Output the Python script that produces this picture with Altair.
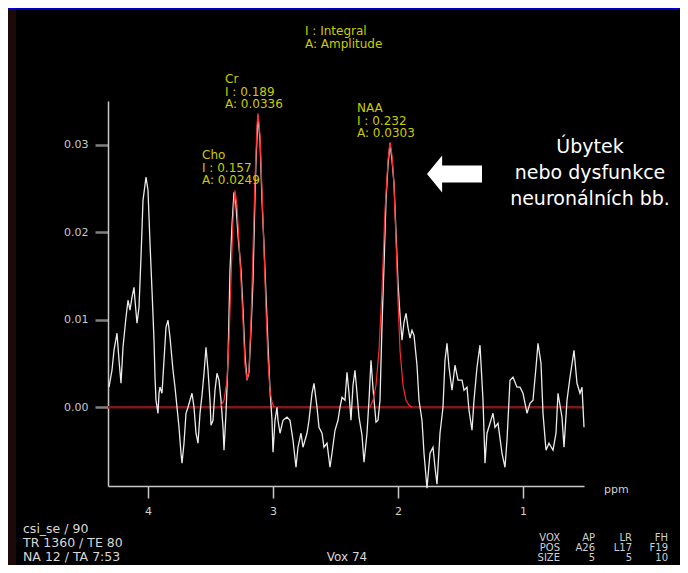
import altair as alt
import pandas as pd

# ---------------- data ----------------
spec_ppm = [
    4.312, 4.288, 4.272, 4.248, 4.232, 4.216, 4.200, 4.176, 4.160, 4.144,
    4.128, 4.112, 4.104, 4.088, 4.072, 4.056, 4.040, 4.016, 4.000, 3.984,
    3.968, 3.952, 3.944, 3.936, 3.920, 3.912, 3.904, 3.888, 3.872, 3.856,
    3.840, 3.824, 3.800, 3.784, 3.768, 3.752, 3.736, 3.728, 3.712, 3.696,
    3.680, 3.664, 3.648, 3.632, 3.616, 3.600, 3.584, 3.568, 3.552, 3.536,
    3.520, 3.504, 3.496, 3.480, 3.464, 3.448, 3.432, 3.416, 3.400, 3.392,
    3.376, 3.360, 3.344, 3.328, 3.312, 3.296, 3.280, 3.256, 3.240, 3.224,
    3.208, 3.192, 3.176, 3.160, 3.144, 3.136, 3.120, 3.104, 3.088, 3.072,
    3.056, 3.040, 3.024, 3.008, 3.000, 2.984, 2.968, 2.960, 2.944, 2.920,
    2.888, 2.864, 2.840, 2.816, 2.800, 2.776, 2.760, 2.728, 2.712, 2.688,
    2.672, 2.648, 2.632, 2.608, 2.592, 2.568, 2.544, 2.528, 2.504, 2.480,
    2.464, 2.448, 2.424, 2.408, 2.392, 2.376, 2.360, 2.344, 2.328, 2.312,
    2.288, 2.272, 2.248, 2.232, 2.216, 2.200, 2.176, 2.160, 2.144, 2.128,
    2.112, 2.096, 2.080, 2.064, 2.048, 2.032, 2.016, 2.000, 1.984, 1.968,
    1.952, 1.936, 1.920, 1.904, 1.888, 1.872, 1.848, 1.832, 1.808, 1.792,
    1.768, 1.744, 1.720, 1.704, 1.688, 1.664, 1.640, 1.624, 1.608, 1.592,
    1.568, 1.544, 1.520, 1.488, 1.472, 1.448, 1.432, 1.408, 1.392, 1.368,
    1.344, 1.320, 1.304, 1.288, 1.264, 1.240, 1.224, 1.200, 1.168, 1.144,
    1.128, 1.104, 1.080, 1.048, 1.024, 1.000, 0.968, 0.944, 0.920, 0.896,
    0.880, 0.856, 0.840, 0.816, 0.792, 0.760, 0.736, 0.720, 0.688, 0.672,
    0.648, 0.624, 0.592, 0.568, 0.544, 0.528, 0.512,
]
spec_amp = [
    0.00229, 0.00423, 0.00651, 0.00846, 0.00537, 0.00274, 0.00686, 0.01029, 0.01223, 0.01109,
    0.01257, 0.01371, 0.01223, 0.00960, 0.01143, 0.01714, 0.02366, 0.02629, 0.02480, 0.01874,
    0.01337, 0.00766, 0.00343, 0.00080, -0.00069, 0.00160, 0.00229, 0.00160, 0.00537, 0.00914,
    0.00994, 0.00800, 0.00423, 0.00229, 0.00000, -0.00229, -0.00526, -0.00640, -0.00411, -0.00069,
    0.00000, 0.00080, 0.00160, 0.00000, -0.00297, -0.00411, -0.00069, 0.00137, 0.00389, 0.00686,
    0.00423, 0.00080, -0.00206, -0.00149, 0.00194, 0.00389, 0.00309, 0.00080, -0.00229, -0.00491,
    -0.00069, 0.00537, 0.01566, 0.02080, 0.02457, 0.02309, 0.01966, 0.01566, 0.01109, 0.00594,
    0.00309, 0.00400, 0.00880, 0.01451, 0.02423, 0.02823, 0.03337, 0.03051, 0.02366, 0.01851,
    0.01280, 0.00709, 0.00194, -0.00149, -0.00514, -0.00149, 0.00000, -0.00149, -0.00297, -0.00149,
    -0.00114, -0.00149, -0.00377, -0.00686, -0.00457, -0.00297, -0.00457, -0.00297, -0.00149, 0.00160,
    0.00274, 0.00000, -0.00229, -0.00297, -0.00457, -0.00411, -0.00686, -0.00526, -0.00263, -0.00149,
    0.00000, 0.00114, 0.00080, 0.00400, 0.00160, -0.00149, 0.00251, 0.00423, 0.00160, -0.00114,
    -0.00320, -0.00629, -0.00297, 0.00080, 0.00537, 0.00217, -0.00171, -0.00149, 0.00080, 0.00937,
    0.01623, 0.02366, 0.02766, 0.03017, 0.02823, 0.02560, 0.01989, 0.01417, 0.01051, 0.00766,
    0.00971, 0.01074, 0.00914, 0.00789, 0.00880, 0.00823, 0.00480, 0.00080, -0.00149, -0.00526,
    -0.00926, -0.00526, -0.00457, -0.00686, -0.00880, -0.00297, 0.00000, 0.00537, 0.00731, 0.00457,
    0.00194, 0.00480, 0.00309, 0.00309, 0.00194, 0.00229, -0.00034, -0.00263, 0.00080, 0.00457,
    0.00709, 0.00080, -0.00640, -0.00297, -0.00183, -0.00069, -0.00229, -0.00183, -0.00526, -0.00686,
    -0.00377, 0.00309, 0.00343, 0.00229, 0.00229, 0.00160, -0.00069, 0.00046, 0.00080, 0.00457,
    0.00731, 0.00503, -0.00069, -0.00491, -0.00411, -0.00491, -0.00297, 0.00160, -0.00114, -0.00457,
    0.00080, 0.00343, 0.00651, 0.00274, 0.00160, 0.00229, -0.00229,
]
assert len(spec_ppm) == len(spec_amp)

# fitted model curve (red), two pieces: Cho+Cr and NAA
fit_ppm = [
    3.424, 3.392, 3.368, 3.352, 3.336, 3.320, 3.304, 3.288, 3.264, 3.240,
    3.224, 3.208, 3.192, 3.176, 3.160, 3.144, 3.128, 3.120, 3.104, 3.088,
    3.072, 3.056, 3.040, 3.024, 3.008, 2.992,
    2.224, 2.200, 2.176, 2.152, 2.128, 2.104, 2.080, 2.064, 2.048, 2.032,
    2.016, 2.000, 1.984, 1.960, 1.936, 1.912, 1.888,
]
fit_amp = [
    0.0, 0.00080, 0.00309, 0.00766, 0.01451, 0.02137, 0.02480, 0.02309, 0.01680, 0.00994,
    0.00480, 0.00309, 0.00423, 0.00994, 0.01794, 0.02594, 0.03223, 0.03360, 0.03109, 0.02480,
    0.01794, 0.01109, 0.00537, 0.00194, 0.00057, 0.0,
    0.0, 0.00080, 0.00251, 0.00651, 0.01337, 0.02251, 0.02823, 0.03029, 0.02880, 0.02537,
    0.01909, 0.01223, 0.00651, 0.00251, 0.00080, 0.00023, 0.0,
]
fit_piece = ["Cho+Cr"] * 26 + ["NAA"] * 17
assert len(fit_ppm) == len(fit_amp) == len(fit_piece)

baseline_value = [0.0]

peak_names = ["Cho", "Cr", "NAA"]
peak_ppm = [3.304, 3.120, 2.064]
peak_amplitude = [0.0249, 0.0336, 0.0303]
peak_integral_text = ["0.157", "0.189", "0.232"]
peak_amplitude_text = ["0.0249", "0.0336", "0.0303"]

y_ticks = [0.0, 0.01, 0.02, 0.03]
x_ticks = [4, 3, 2, 1]

legend_lines = ["I : Integral", "A: Amplitude"]
note_lines = ["Úbytek", "nebo dysfunkce", "neuronálních bb."]
info_lines = ["csi_se / 90", "TR 1360 / TE 80", "NA 12 / TA 7:53"]
vox_label = "Vox 74"
pos_cols = [["VOX", "POS", "SIZE"], ["AP", "A26", "5"], ["LR", "L17", "5"], ["FH", "F19", "10"]]

# ---------------- chart ----------------
W, H = 476, 385
YEL = "#cccc00"
FONT = "DejaVu Sans"

spec_df = pd.DataFrame({"ppm": spec_ppm, "amp": spec_amp})
fit_df = pd.DataFrame({"ppm": fit_ppm, "amp": fit_amp, "piece": fit_piece})
base_df = pd.DataFrame({"amp": baseline_value})
peak_df = pd.DataFrame({
    "ppm": peak_ppm,
    "amp": peak_amplitude,
    "label": [f"{n}\nI : {i}\nA: {a}" for n, i, a in zip(peak_names, peak_integral_text, peak_amplitude_text)],
})
one = pd.DataFrame({"k": [0]})

xscale = alt.Scale(domain=[0.512, 4.32], reverse=True, nice=False, zero=False)
yscale = alt.Scale(domain=[-0.009, 0.035], nice=False, zero=False)

x_axis = alt.Axis(values=x_ticks, format="d", title=None, grid=False,
                  domainColor="#c8c8c8", domainWidth=1.5,
                  tickColor="#c8c8c8", tickWidth=1.5, tickSize=12,
                  labelColor="#d0d0d0", labelFont=FONT, labelFontSize=11, labelPadding=7)
y_axis = alt.Axis(values=y_ticks, format=".2f", title=None, grid=False,
                  domainColor="#c8c8c8", domainWidth=1.5,
                  tickColor="#808080", tickWidth=2.5, tickSize=13,
                  labelColor="#c8c8c8", labelFont=FONT, labelFontSize=11, labelPadding=7)

baseline = alt.Chart(base_df).mark_rule(color="#7a1a1a", strokeWidth=2.5).encode(
    y=alt.Y("amp:Q", scale=yscale, axis=y_axis)
)

spectrum = alt.Chart(spec_df).mark_line(color="#ececec", strokeWidth=1.3).encode(
    x=alt.X("ppm:Q", scale=xscale, axis=x_axis, sort=None),
    y=alt.Y("amp:Q", scale=yscale),
    order=alt.Order("ppm:Q", sort="descending"),
)

fit = alt.Chart(fit_df).mark_line(color="#ff2a2a", strokeWidth=1.2).encode(
    x=alt.X("ppm:Q", scale=xscale),
    y=alt.Y("amp:Q", scale=yscale),
    detail="piece:N",
    order=alt.Order("ppm:Q", sort="descending"),
)

peak_labels = alt.Chart(peak_df).mark_text(
    align="left", baseline="bottom", dx=-33, dy=-27, color=YEL,
    font=FONT, fontSize=12, lineBreak="\n", lineHeight=12.5,
).encode(
    x=alt.X("ppm:Q", scale=xscale),
    y=alt.Y("amp:Q", scale=yscale),
    text="label:N",
)

legend = alt.Chart(one).mark_text(
    align="left", baseline="top", color=YEL, font=FONT, fontSize=12,
    lineBreak="\n", lineHeight=13,
).encode(x=alt.value(197), y=alt.value(-75), text=alt.value("\n".join(legend_lines)))

ppm_label = alt.Chart(one).mark_text(
    align="left", baseline="middle", color="#d0d0d0", font=FONT, fontSize=11,
).encode(x=alt.value(496), y=alt.value(389), text=alt.value("ppm"))

arrow = alt.Chart(one).mark_point(
    shape="M -1 0 L -0.45 -0.67 L -0.45 -0.31 L 1 -0.31 L 1 0.31 L -0.45 0.31 L -0.45 0.67 Z",
    filled=True, color="white", opacity=1, size=3025, strokeWidth=0,
).encode(x=alt.value(346.5), y=alt.value(73))

note_layers = [
    alt.Chart(one).mark_text(align="center", baseline="middle", color="white",
                             font=FONT, fontSize=19).encode(
        x=alt.value(482), y=alt.value(46 + 26 * i), text=alt.value(t))
    for i, t in enumerate(note_lines)
]

info_layers = [
    alt.Chart(one).mark_text(align="left", baseline="middle", color="#d8d8d8",
                             font=FONT, fontSize=12.5).encode(
        x=alt.value(-85), y=alt.value(428 + 14 * i), text=alt.value(t))
    for i, t in enumerate(info_lines)
]

vox = alt.Chart(one).mark_text(align="center", baseline="middle", color="#d8d8d8",
                               font=FONT, fontSize=12).encode(
    x=alt.value(239), y=alt.value(456), text=alt.value(vox_label))

col_right = [452, 487, 524, 560]
pos_layers = []
for c, col in enumerate(pos_cols):
    for r, t in enumerate(col):
        pos_layers.append(
            alt.Chart(one).mark_text(align="right", baseline="middle", color="#d0d0d0",
                                     font=FONT, fontSize=10).encode(
                x=alt.value(col_right[c]), y=alt.value(437 + 10 * r), text=alt.value(t))
        )

top_strip = alt.Chart(one).mark_rect(color="#0000c4").encode(
    x=alt.value(-100), x2=alt.value(572), y=alt.value(-93), y2=alt.value(-91))
left_strip = alt.Chart(one).mark_rect(color="#1c0a0a").encode(
    x=alt.value(-100), x2=alt.value(-92), y=alt.value(-91), y2=alt.value(464))

chart = alt.layer(
    top_strip, left_strip, baseline, spectrum, fit, peak_labels, legend, ppm_label, arrow,
    *note_layers, *info_layers, vox, *pos_layers,
).properties(
    width=W, height=H,
    padding={"left": 100, "top": 93, "right": 96, "bottom": 79},
    autosize=alt.AutoSizeParams(type="none"),
    background="black",
).configure_view(strokeWidth=0)

chart.save("out.html", embed_options={"renderer": "svg", "actions": False})
